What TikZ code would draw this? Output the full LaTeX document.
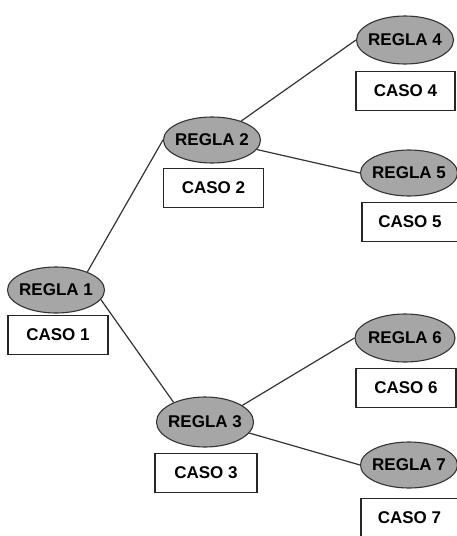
\documentclass[tikz,border=0pt]{standalone}
\usepackage{fontspec}
\setmainfont{Liberation Sans}
\usetikzlibrary{shapes.geometric}
\definecolor{rulefill}{HTML}{A6A6A6}
\definecolor{edgegray}{HTML}{333333}
\tikzset{
  rule/.style={ellipse, draw=edgegray, line width=1.1pt, fill=rulefill,
    minimum width=97pt, minimum height=46pt, inner xsep=-12pt, inner ysep=0pt,
    font=\fontsize{17}{20}\selectfont\bfseries},
  casebox/.style={rectangle, draw=black!85, line width=1.2pt, fill=white,
    minimum width=100pt, minimum height=39pt, inner sep=0pt,
    font=\fontsize{17}{20}\selectfont\bfseries},
  link/.style={draw=black!80, line width=1.2pt}
}
\begin{document}
\begin{tikzpicture}[x=1pt,y=-1pt]
\useasboundingbox (0,0) rectangle (457,536);
% rules
\node[rule] (r1) at (56,290) {REGLA 1};
\node[rule] (r2) at (212,140) {REGLA 2};
\node[rule, minimum height=50pt] (r3) at (205,422) {REGLA 3};
\node[rule, minimum height=48pt] (r4) at (405,40) {REGLA 4};
\node[rule] (r5) at (409,173) {REGLA 5};
\node[rule, minimum width=100pt, minimum height=48pt] (r6) at (405,338) {REGLA 6};
\node[rule] (r7) at (409,465) {REGLA 7};
% cases
\node[casebox] (c1) at (58,335) {CASO 1};
\node[casebox] (c2) at (213.5,188) {CASO 2};
\node[casebox, minimum width=102pt] (c3) at (206,473) {CASO 3};
\node[casebox, minimum width=99pt] (c4) at (405.5,91) {CASO 4};
\node[casebox, minimum width=96pt] (c5) at (410,222) {CASO 5};
\node[casebox] (c6) at (406,388) {CASO 6};
\node[casebox, minimum width=97pt] (c7) at (409.5,518) {CASO 7};
% branches
\draw[link] (r1.30) -- (r2.west);
\draw[link] (r1.-12) -- (r3.148);
\draw[link] (r2.33) -- (r4.west);
\draw[link] (r2.-12) -- (r5.west);
\draw[link] (r3.24) -- (r6.west);
\draw[link] (r3.-14) -- (r7.west);
\end{tikzpicture}
\end{document}
